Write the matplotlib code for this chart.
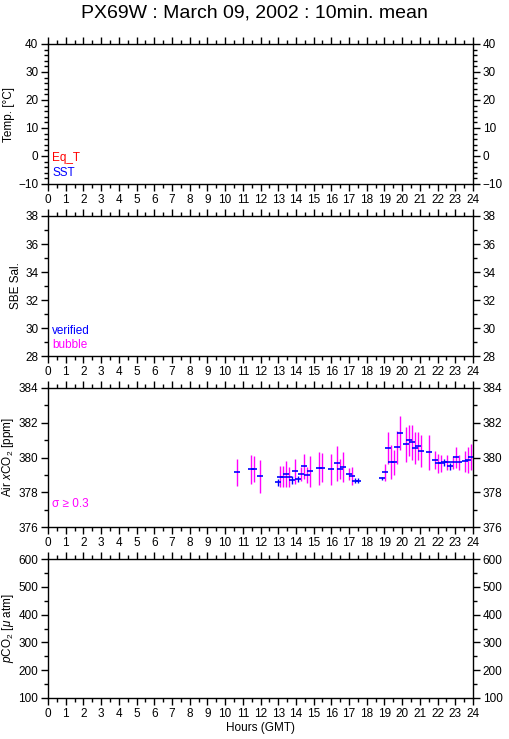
import matplotlib
matplotlib.use("Agg")
import matplotlib.pyplot as plt
from matplotlib.ticker import MultipleLocator
import numpy as np

plt.rcParams['font.family'] = ['Liberation Sans', 'DejaVu Sans']
plt.rcParams['mathtext.fontset'] = 'custom'
plt.rcParams['mathtext.rm'] = 'Liberation Sans'
plt.rcParams['mathtext.it'] = 'Liberation Sans:italic'

title = "PX69W : March 09, 2002 : 10min. mean"
hour_ticks = list(range(0, 25))

# Air xCO2 10-min means (hours GMT, ppm, std dev)
hours = [10.65, 11.48, 11.65, 11.99,
         12.97, 13.12, 13.29, 13.46, 13.63, 13.80, 13.97, 14.14, 14.31, 14.48,
         14.65, 14.81, 15.32, 15.49, 16.00, 16.34, 16.51, 16.68, 17.01, 17.18,
         17.35, 17.52,
         18.84, 19.01, 19.18, 19.35, 19.52, 19.69, 19.86, 20.20, 20.37, 20.54,
         20.71, 20.88, 21.05, 21.53, 21.85, 22.02, 22.19, 22.36, 22.53, 22.70,
         22.87, 23.04, 23.21, 23.55, 23.72, 23.89]
xco2 = [379.15, 379.32, 379.32, 378.92,
        378.57, 378.90, 378.90, 379.03, 378.86, 378.70, 379.20, 378.77, 379.03, 379.50,
        378.99, 379.20, 379.38, 379.42, 379.32, 379.66, 379.32, 379.45, 379.03, 378.95,
        378.67, 378.67,
        378.80, 379.15, 380.53, 379.72, 379.72, 380.59, 381.39, 380.76, 380.99, 380.87,
        380.53, 380.64, 380.36, 380.30, 379.84, 379.66, 379.66, 379.72, 379.72, 379.49,
        379.72, 380.01, 379.72, 379.78, 379.84, 380.01]
xco2_sd = [0.77, 0.84, 0.74, 0.94,
           0.20, 0.61, 0.59, 0.74, 0.57, 0.22, 0.70, 0.17, 0.40, 0.72,
           0.46, 0.90, 0.96, 0.84, 0.89, 1.00, 0.58, 0.88, 0.35, 0.53,
           0.15, 0.15,
           0.08, 0.48, 0.92, 0.98, 0.72, 0.95, 0.98, 1.00, 0.89, 0.99,
           0.91, 0.80, 0.92, 1.00, 0.53, 0.53, 0.47, 0.20, 0.43, 0.19,
           0.38, 0.61, 0.43, 0.59, 0.74, 0.74]

W, H = 509, 739
fig = plt.figure(figsize=(W/100, H/100), dpi=100)

left = 48 / W
width = (473 - 48) / W
panels = [(44, 184), (216, 356), (388, 527), (559, 698)]
ylims = [(-10, 40), (28, 38), (376, 384), (100, 600)]
ymaj = [10, 2, 2, 100]
ymin = [2, 1, 1, 50]
ylabels = ["Temp. [°C]", "SBE Sal.", "Air $\\it{x}$CO$_2$ [ppm]",
           "$\\it{p}$CO$_2$ [$\\mu$ atm]"]

axes = []
for (top, bot), yl, mj, mn, lab in zip(panels, ylims, ymaj, ymin, ylabels):
    ax = fig.add_axes([left, 1 - bot / H, width, (bot - top) / H])
    ax.set_xlim(0, 24)
    ax.set_ylim(*yl)
    ax.set_xticks(hour_ticks)
    ax.xaxis.set_minor_locator(MultipleLocator(0.5))
    ax.yaxis.set_major_locator(MultipleLocator(mj))
    ax.yaxis.set_minor_locator(MultipleLocator(mn))
    ax.tick_params(which='both', direction='out', top=True, right=True,
                   labelright=True, labelsize=8.5, width=1, color='black', pad=2)
    ax.tick_params(which='major', length=5)
    ax.tick_params(which='minor', length=3)
    for s in ax.spines.values():
        s.set_linewidth(1)
    ax.set_ylabel(lab, fontsize=8.5, labelpad=2)
    axes.append(ax)

fig.text(0.5, 1 - 13 / H, title, ha='center', va='center', fontsize=14)

# legends
axes[0].text(0.01, 0.185, "Eq_T", color='red', fontsize=8.5, transform=axes[0].transAxes, va='center')
axes[0].text(0.01, 0.08, "SST", color='blue', fontsize=8.5, transform=axes[0].transAxes, va='center')
axes[1].text(0.01, 0.18, "verified", color='blue', fontsize=8.5, transform=axes[1].transAxes, va='center')
axes[1].text(0.01, 0.08, "bubble", color='#ff00ff', fontsize=8.5, transform=axes[1].transAxes, va='center')
axes[2].text(0.01, 0.165, "σ ≥ 0.3", color='#ff00ff', fontsize=8.5, transform=axes[2].transAxes, va='center')

# xCO2 data
h = np.array(hours)
v = np.array(xco2)
sd = np.array(xco2_sd)
big = sd >= 0.3
ax = axes[2]
ax.errorbar(h[big], v[big], yerr=sd[big], fmt='none', ecolor='#ff00ff', elinewidth=1.0, capsize=0)
ax.errorbar(h[~big], v[~big], yerr=sd[~big], fmt='none', ecolor='blue', elinewidth=1.0, capsize=0)
ax.plot(h, v, linestyle='none', marker='_', markersize=5, markeredgewidth=1.2, color='blue')

axes[3].set_xlabel("Hours (GMT)", fontsize=8.5, labelpad=2)

fig.savefig("out.png", dpi=100)
